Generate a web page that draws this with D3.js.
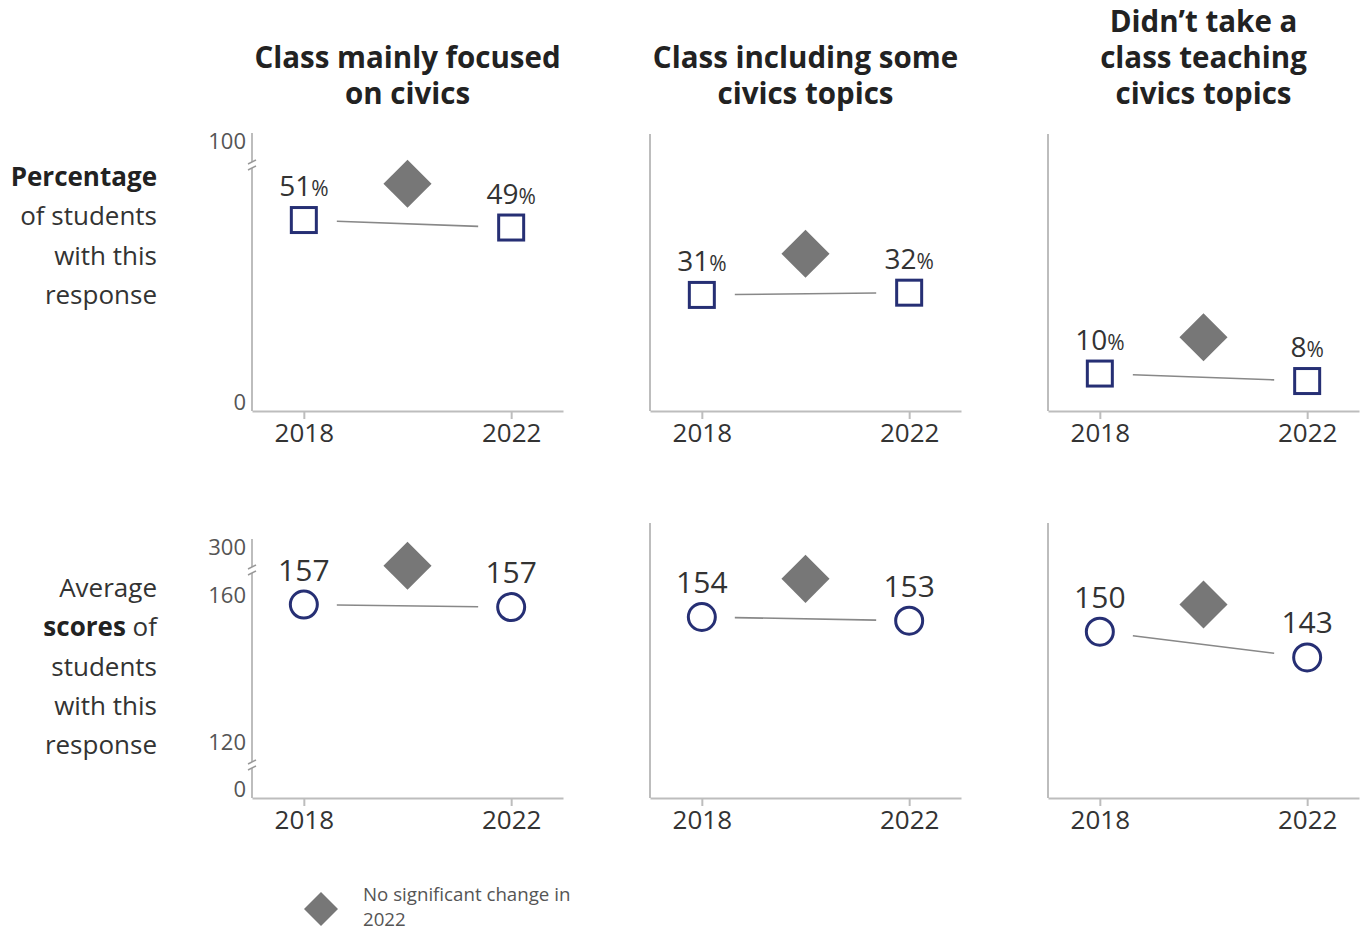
<!DOCTYPE html>
<html>
<head>
<meta charset="utf-8">
<script src="https://cdn.jsdelivr.net/npm/d3@7"></script>
<style>
  body { margin: 0; background: #fff; }
  text { font-family: "Open Sans", "Noto Sans", sans-serif; }
</style>
</head>
<body>
<div id="container"></div>
<script>
let w = 1361;
let h = 930;

// the data
let years = [2018, 2022];
let titles = [
  ["Class mainly focused", "on civics"],
  ["Class including some", "civics topics"],
  ["Didn\u2019t take a", "class teaching", "civics topics"]
];
let pct2018 = [51, 31, 10];
let pct2022 = [49, 31.6, 8];
let score2018 = [157.4, 154, 150];
let score2022 = [156.7, 153, 143];
let pctTicks = [0, 100];
let scoreTicks = [0, 120, 160, 300];
let legendLines = ["No significant change in", "2022"];

let navy = "#262f74";
let axisGrey = "#bdbdbd";

let viz = d3.select("#container")
  .append("svg")
    .attr("width", w)
    .attr("height", h)
    .style("background-color", "white");

// left edge of each panel and its width
let panelX = [252, 650, 1048];
let panelW = 311;

let xScale = d3.scaleLinear().domain([2017, 2023]).range([0, panelW]);

// broken y scales (the axis is cut between the ticks)
let pctScale = d3.scaleLinear().domain([0, 65.7, 100]).range([411, 165, 141]);
let scoreScale = d3.scaleLinear().domain([0, 113.7, 166.8, 300]).range([798, 765, 570, 547]);

let rows = [
  { scale: pctScale, v18: pct2018, v22: pct2022, ticks: pctTicks, breaks: [165],
    base: 411, tops: [133, 134, 134], marker: "square", pct: true },
  { scale: scoreScale, v18: score2018, v22: score2022, ticks: scoreTicks, breaks: [570, 765],
    base: 798, tops: [539, 523, 523], marker: "circle", pct: false }
];

// column titles
titles.forEach(function(lines, i){
  let t = viz.append("text")
    .attr("text-anchor", "middle")
    .attr("font-size", 29.5)
    .attr("font-weight", 700)
    .attr("fill", "#222");
  lines.forEach(function(line, j){
    t.append("tspan")
      .attr("x", panelX[i] + xScale(2020))
      .attr("y", 104 - (lines.length - 1 - j) * 36)
      .text(line);
  });
});

// row labels
function rowLabel(lines, yStart){
  let t = viz.append("text")
    .attr("text-anchor", "end")
    .attr("font-size", 26)
    .attr("fill", "#333");
  lines.forEach(function(parts, j){
    let line = t.append("tspan").attr("x", 157).attr("y", yStart + j * 39.3);
    parts.forEach(function(p){
      line.append("tspan")
        .attr("font-weight", p.b ? 700 : 400)
        .attr("fill", p.b ? "#222" : "#333")
        .text(p.t);
    });
  });
}
rowLabel([[{t:"Percentage", b:true}], [{t:"of students"}], [{t:"with this"}], [{t:"response"}]], 186);
rowLabel([[{t:"Average"}], [{t:"scores", b:true}, {t:" of"}], [{t:"students"}], [{t:"with this"}], [{t:"response"}]], 597);

let diamond = d3.symbol().type(d3.symbolSquare).size(34 * 34);

rows.forEach(function(row){
  panelX.forEach(function(px, i){
    let g = viz.append("g").attr("transform", "translate(" + px + ",0)");

    // y axis line
    g.append("line")
      .attr("x1", 0).attr("x2", 0)
      .attr("y1", row.tops[i]).attr("y2", row.base)
      .attr("stroke", axisGrey).attr("stroke-width", 2);

    // x axis
    let xAxis = d3.axisBottom(xScale)
      .tickValues(years)
      .tickFormat(d3.format("d"))
      .tickSize(8)
      .tickSizeOuter(0)
      .tickPadding(5);
    let xAxisGroup = g.append("g").attr("transform", "translate(0," + row.base + ")").call(xAxis);
    xAxisGroup.select(".domain").attr("stroke", axisGrey).attr("stroke-width", 2);
    xAxisGroup.selectAll(".tick line").attr("stroke", axisGrey).attr("stroke-width", 2);
    xAxisGroup.selectAll(".tick text")
      .attr("font-size", 26)
      .attr("font-family", "Open Sans")
      .attr("fill", "#333");

    // y ticks only on the first panel
    if(i == 0){
      let yAxis = d3.axisLeft(row.scale).tickValues(row.ticks).tickSize(0).tickPadding(6);
      let yAxisGroup = g.append("g").call(yAxis);
      yAxisGroup.select(".domain").remove();
      yAxisGroup.selectAll(".tick text")
        .attr("font-size", 22)
        .attr("font-family", "Open Sans")
        .attr("fill", "#555")
        .attr("dy", function(d){ return d == 0 ? "-0.05em" : "0.35em"; });

      // axis break marks
      row.breaks.forEach(function(by){
        g.append("rect").attr("x", -5).attr("y", by - 3).attr("width", 10).attr("height", 6).attr("fill", "white");
        g.append("line").attr("x1", -4).attr("x2", 4).attr("y1", by - 1).attr("y2", by - 5)
          .attr("stroke", "#999").attr("stroke-width", 1.5);
        g.append("line").attr("x1", -4).attr("x2", 4).attr("y1", by + 5).attr("y2", by + 1)
          .attr("stroke", "#999").attr("stroke-width", 1.5);
      });
    }

    let x1 = xScale(years[0]), x2 = xScale(years[1]);
    let y1 = row.scale(row.v18[i]), y2 = row.scale(row.v22[i]);

    // connecting line with gaps around the markers
    let gap = 33 / (x2 - x1);
    g.append("line")
      .attr("x1", x1 + (x2 - x1) * gap).attr("y1", y1 + (y2 - y1) * gap)
      .attr("x2", x2 - (x2 - x1) * gap).attr("y2", y2 - (y2 - y1) * gap)
      .attr("stroke", "#888").attr("stroke-width", 1.6);

    // "no significant change" diamond
    g.append("path")
      .attr("d", diamond)
      .attr("transform", "translate(" + xScale(2020) + "," + ((y1 + y2) / 2 - 40) + ") rotate(45)")
      .attr("fill", "#777");

    // markers and labels
    [[x1, y1, row.v18[i]], [x2, y2, row.v22[i]]].forEach(function(p){
      if(row.marker == "square"){
        g.append("rect")
          .attr("x", p[0] - 12.5).attr("y", p[1] - 12.5)
          .attr("width", 25).attr("height", 25)
          .attr("fill", "white").attr("stroke", navy).attr("stroke-width", 3);
      }else{
        g.append("circle")
          .attr("cx", p[0]).attr("cy", p[1]).attr("r", 13.5)
          .attr("fill", "white").attr("stroke", navy).attr("stroke-width", 3);
      }
      let lab = g.append("text")
        .attr("x", p[0]).attr("y", p[1] - 24)
        .attr("text-anchor", "middle")
        .attr("font-size", row.pct ? 28 : 30)
        .attr("fill", "#333");
      lab.append("tspan").text(Math.round(p[2]));
      if(row.pct){
        lab.append("tspan").attr("font-size", 21).text("%");
      }
    });
  });
});

// legend
viz.append("path")
  .attr("d", d3.symbol().type(d3.symbolSquare).size(24 * 24))
  .attr("transform", "translate(321,909) rotate(45)")
  .attr("fill", "#777");
let legendText = viz.append("text").attr("font-size", 18.7).attr("fill", "#555");
legendLines.forEach(function(line, j){
  legendText.append("tspan").attr("x", 363).attr("y", 901 + j * 25).text(line);
});
</script>
</body>
</html>
